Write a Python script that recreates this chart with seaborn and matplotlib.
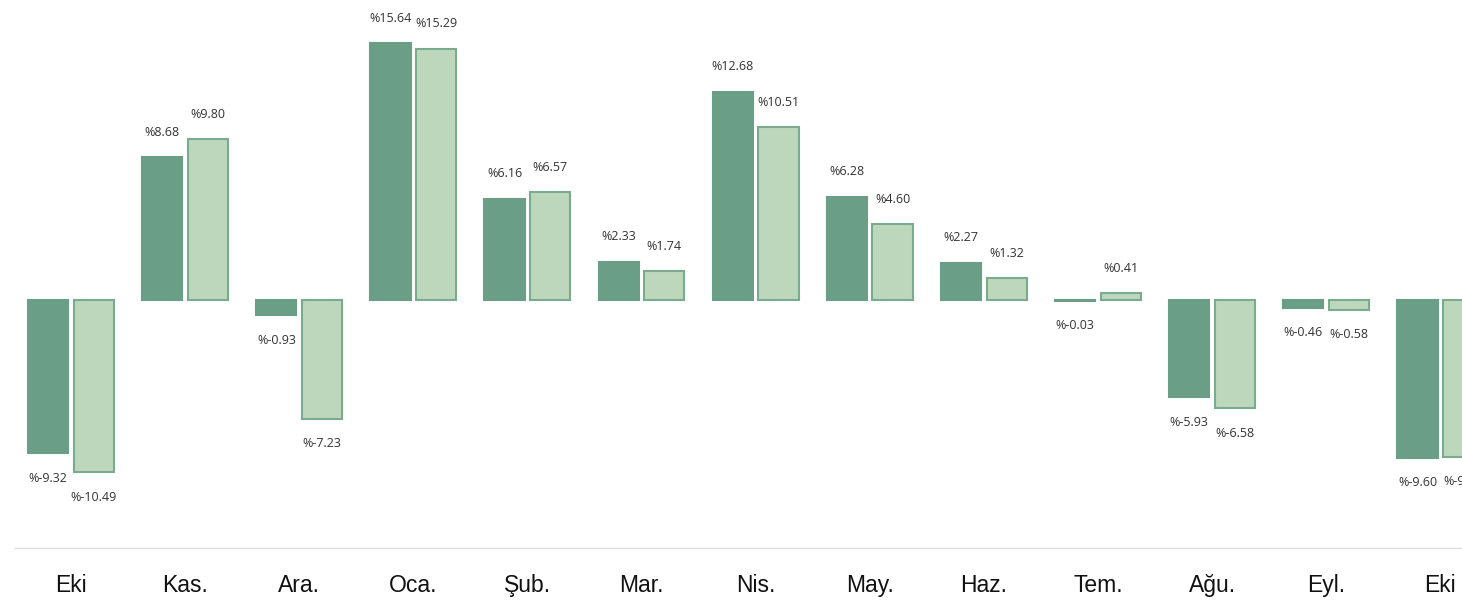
import numpy as np
import pandas as pd
import matplotlib.pyplot as plt
import seaborn as sns

months = ['Eki', 'Kas.', 'Ara.', 'Oca.', 'Şub.', 'Mar.', 'Nis.', 'May.', 'Haz.', 'Tem.', 'Ağu.', 'Eyl.', 'Eki']
series_a = [-9.32, 8.68, -0.93, 15.64, 6.16, 2.33, 12.68, 6.28, 2.27, -0.03, -5.93, -0.46, -9.60]
series_b = [-10.49, 9.80, -7.23, 15.29, 6.57, 1.74, 10.51, 4.60, 1.32, 0.41, -6.58, -0.58, -9.54]

n = len(months)
df = pd.DataFrame({
    'pos': list(range(n)) * 2,
    'value': series_a + series_b,
    'series': ['A'] * n + ['B'] * n,
})

sns.set_style('white')
fig = plt.figure(figsize=(14.62, 6.01), dpi=100)
ax = fig.add_axes([15 / 1462, 0.0882, 1 - 15 / 1462, 0.9118])

sns.barplot(data=df, x='pos', y='value', hue='series', palette=['#6a9e86', '#bcd7bc'],
            width=0.8, gap=0.12, saturation=1, legend=False, ax=ax)

edges = ['#6a9e86', '#7aab8f']
for cont, ec in zip(ax.containers, edges):
    for bar in cont:
        bar.set_edgecolor(ec)
        bar.set_linewidth(1.5)
        v = bar.get_height()
        off = 18 if v >= 0 else -18
        ax.annotate(f'%{v:.2f}', (bar.get_x() + bar.get_width() / 2, v),
                    xytext=(0, off), textcoords='offset points', ha='center', va='center',
                    fontsize=9, color='#333333', family='Open Sans', annotation_clip=False)

ax.set_xlim(-0.49, 12.19)
ax.set_ylim(-15.09, 18.26)
ax.set_xticks(range(n))
ax.set_xticklabels(months, fontsize=16.5, family='Liberation Sans', color='#111111')
ax.set_yticks([])
ax.set_xlabel('')
ax.set_ylabel('')
ax.tick_params(axis='x', length=0, pad=19)
for s in ['top', 'left', 'right']:
    ax.spines[s].set_visible(False)
ax.spines['bottom'].set_color('#dddddd')
ax.spines['bottom'].set_linewidth(1)

fig.savefig('out.png', dpi=100)
